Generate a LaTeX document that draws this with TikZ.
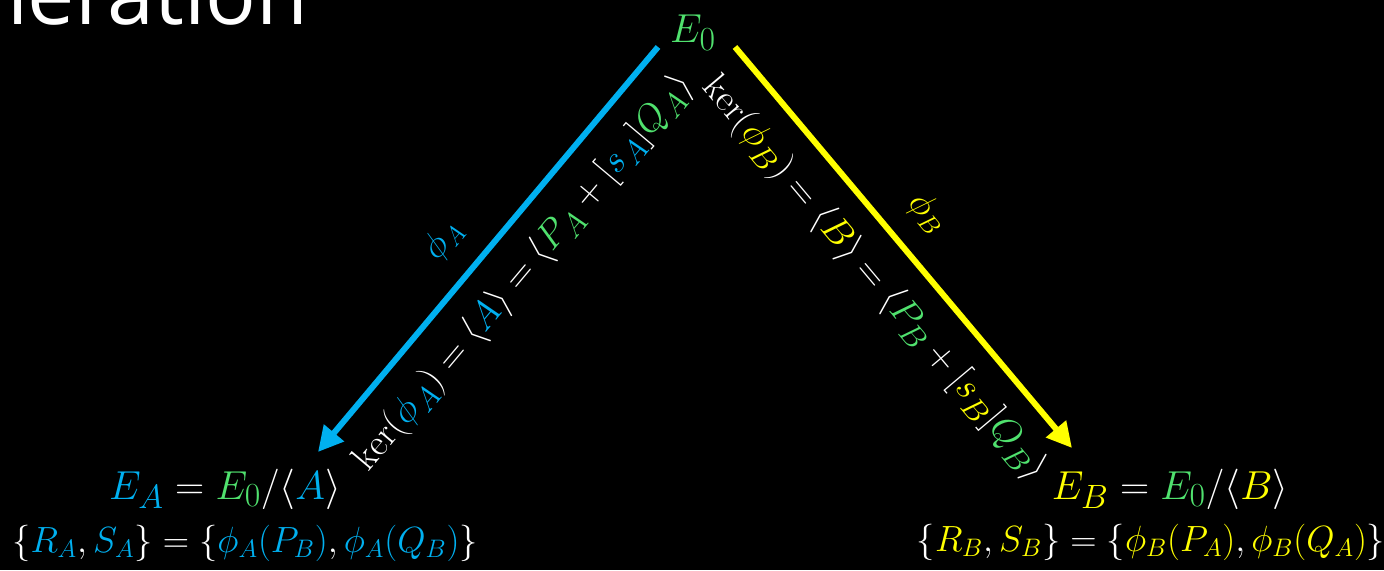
\documentclass[tikz,border=0pt]{standalone}
\usepackage{fontspec}
\newfontfamily\titlefont{Open Sans}
\usetikzlibrary{arrows.meta, calc}

\definecolor{isoblue}{RGB}{0,176,240}
\definecolor{isoyellow}{RGB}{255,255,0}
\definecolor{isogreen}{RGB}{80,225,110}
\newcommand{\cA}[1]{\textcolor{isoblue}{#1}}
\newcommand{\cB}[1]{\textcolor{isoyellow}{#1}}
\newcommand{\cZ}[1]{\textcolor{isogreen}{#1}}

\begin{document}
\begin{tikzpicture}[
  every node/.style={text=white, inner sep=2pt},
  curve/.style={font=\Huge, scale=0.925, anchor=base},
  points/.style={font=\huge, anchor=base},
  kerlabel/.style={font=\Huge, scale=0.86, sloped},
  maplabel/.style={font=\huge, sloped},
  isoA/.style={-{Triangle[length=5mm, width=5mm]}, line width=3.4pt, draw=isoblue},
  isoB/.style={-{Triangle[length=5mm, width=5mm]}, line width=3.4pt, draw=isoyellow},
]
  % ---- canvas ----
  \fill[black] (0,0) rectangle (27.68,11.4);
  \useasboundingbox (0,0) rectangle (27.68,11.4);
  \clip (0,0) rectangle (27.68,11.4);

  % ---- title (cut by the top edge) ----
  \node[font=\titlefont\fontsize{48}{52}\selectfont, anchor=base east] (title) at (6.25,10.9) {neration};

  % ---- curves ----
  \node[curve, text=isogreen] (e0) at (13.86,10.54) {$E_0$};
  \node[curve] (ea) at (4.5,1.42) {$\cA{E_A} = \cZ{E_0}/\langle\cA{A}\rangle$};
  \node[curve] (eb) at (23.4,1.42) {$\cB{E_B} = \cZ{E_0}/\langle\cB{B}\rangle$};

  % ---- images of the torsion points ----
  \node[points] (ra) at (4.9,0.36)
    {$\{\cA{R_A},\cA{S_A}\} = \{\cA{\phi_A(P_B)},\cA{\phi_A(Q_B)}\}$};
  \node[points] (rb) at (23.02,0.38)
    {$\{\cB{R_B},\cB{S_B}\} = \{\cB{\phi_B(P_A)},\cB{\phi_B(Q_A)}\}$};

  % ---- arrow ends ----
  \coordinate (a0) at (13.16,10.46);
  \coordinate (a1) at (6.36,2.36);
  \coordinate (b0) at (14.7,10.46);
  \coordinate (b1) at (21.44,2.44);

  % ==== Alice's isogeny ====
  \draw[isoA] (a0) --
    node[maplabel, above=10pt, pos=0.54, text=isoblue] (phiA) {$\phi_A$}
    node[kerlabel, below=12pt, pos=0.49] (kerA)
      {$\ker(\cA{\phi_A}) = \langle\cA{A}\rangle = \langle\cZ{P_A} + [\cA{s_A}]\cZ{Q_A}\rangle$}
    (a1);

  % ==== Bob's isogeny ====
  \draw[isoB] (b0) --
    node[maplabel, above=10pt, pos=0.48, text=isoyellow] (phiB) {$\phi_B$}
    node[kerlabel, below=12pt, pos=0.51] (kerB)
      {$\ker(\cB{\phi_B}) = \langle\cB{B}\rangle = \langle\cZ{P_B} + [\cB{s_B}]\cZ{Q_B}\rangle$}
    (b1);
\end{tikzpicture}
\end{document}
